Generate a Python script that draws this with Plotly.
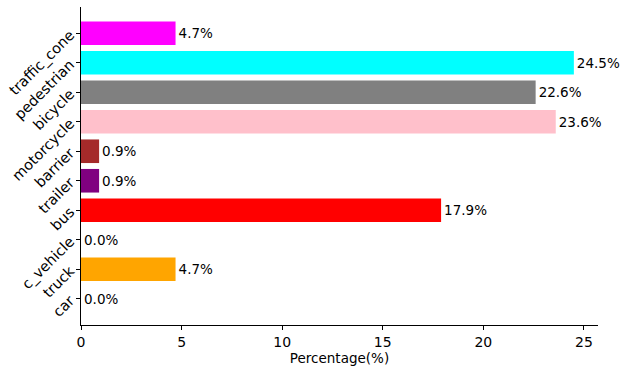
import plotly.graph_objects as go

# categories listed bottom to top, as drawn
categories = ["car", "truck", "c_vehicle", "bus", "trailer", "barrier",
              "motorcycle", "bicycle", "pedestrian", "traffic_cone"]
percentages = [0.0, 4.7, 0.0, 17.9, 0.9, 0.9, 23.6, 22.6, 24.5, 4.7]
colors = ["blue", "orange", "green", "red", "purple", "brown",
          "pink", "gray", "cyan", "magenta"]
x_ticks = [0, 5, 10, 15, 20, 25]

FONT = "DejaVu Sans"

fig = go.Figure()

fig.add_trace(
    go.Bar(
        x=percentages,
        y=categories,
        orientation="h",
        marker=dict(color=colors, line=dict(width=0)),
        text=[f"{p:.1f}%" for p in percentages],
        textposition="outside",
        textfont=dict(family=FONT, size=13.5, color="black"),
        cliponaxis=False,
        width=0.8,
    )
)

fig.update_layout(
    width=626,
    height=371,
    margin=dict(l=81, r=28, t=7, b=46, autoexpand=False),
    plot_bgcolor="white",
    paper_bgcolor="white",
    font=dict(family=FONT, size=13.5, color="black"),
    showlegend=False,
    xaxis=dict(
        range=[0, 25.7],
        tickvals=x_ticks,
        ticks="outside",
        ticklen=4,
        tickcolor="black",
        tickfont=dict(size=14),
        showline=True,
        linecolor="black",
        linewidth=1,
        showgrid=False,
        zeroline=False,
        title=dict(text="Percentage(%)", standoff=4, font=dict(size=13.5)),
    ),
    yaxis=dict(
        range=[-0.89, 9.89],
        ticks="outside",
        ticklen=4,
        tickcolor="black",
        tickangle=-45,
        tickfont=dict(size=14.5),
        ticklabelstandoff=3,
        showline=True,
        linecolor="black",
        linewidth=1,
        showgrid=False,
        zeroline=False,
    ),
)

fig.write_html(
    "out.html",
    config={"displayModeBar": False},
    post_script="document.body.style.margin = '0';",
)
